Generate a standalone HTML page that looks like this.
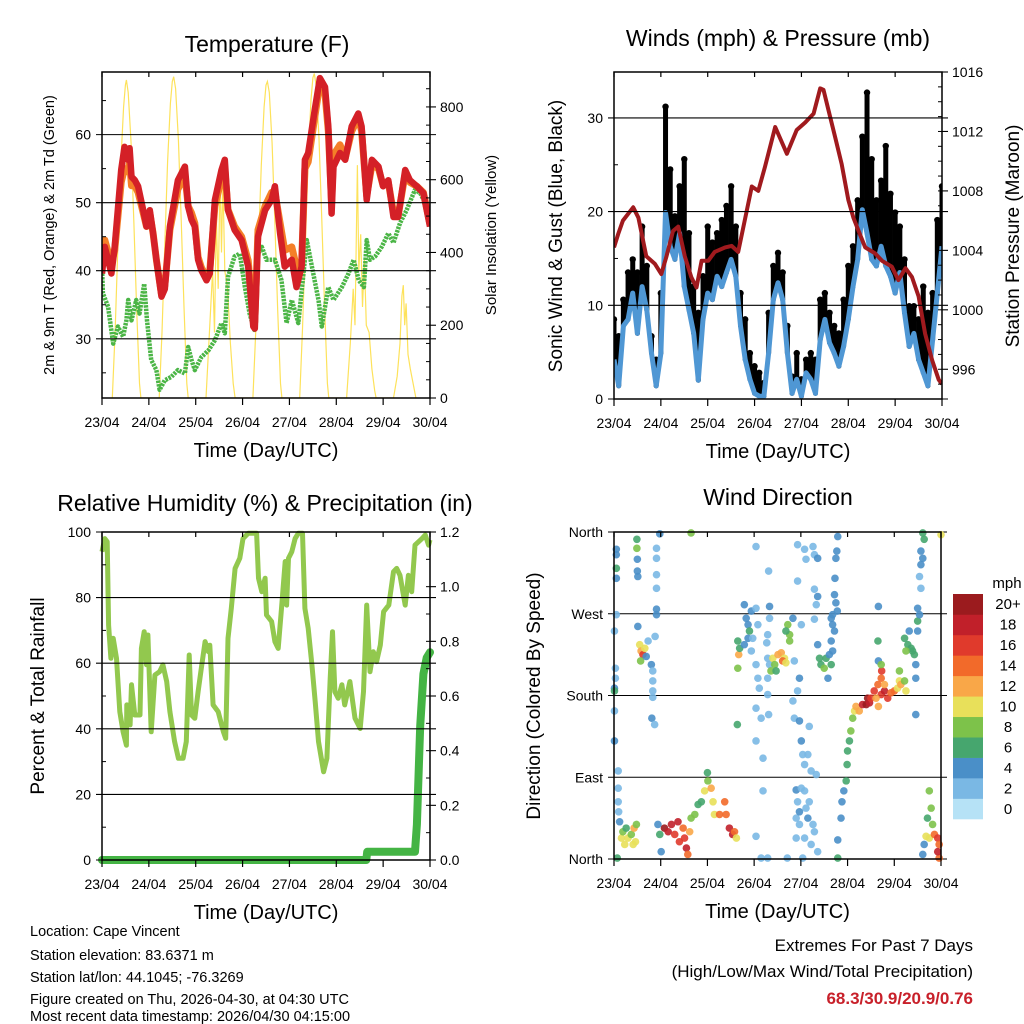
<!DOCTYPE html>
<html><head><meta charset="utf-8">
<style>
html,body{margin:0;padding:0;background:#fff;}
svg{display:block;font-family:"Liberation Sans",Arial,sans-serif;}
</style></head>
<body>
<svg id="fig" width="1024" height="1024" viewBox="0 0 1024 1024" xmlns="http://www.w3.org/2000/svg">
<rect width="1024" height="1024" fill="#fff"/>
<g font-size="14.5" fill="#000">
<text x="30" y="936">Location: Cape Vincent</text>
<text x="30" y="960">Station elevation: 83.6371 m</text>
<text x="30" y="982">Station lat/lon: 44.1045; -76.3269</text>
<text x="30" y="1004">Figure created on Thu, 2026-04-30, at 04:30 UTC</text>
<text x="30" y="1024" dy="-3">Most recent data timestamp: 2026/04/30 04:15:00</text>
</g>
<g text-anchor="end" font-size="17">
<text x="973" y="951">Extremes For Past 7 Days</text>
<text x="973" y="977">(High/Low/Max Wind/Total Precipitation)</text>
<text x="973" y="1004" fill="#c8202a" font-weight="bold">68.3/30.9/20.9/0.76</text>
</g>
</svg>
<script>
// ---------------- data ----------------
const dayLabels = ['23/04','24/04','25/04','26/04','27/04','28/04','29/04','30/04'];
const tempT = [0,0.06,0.2,0.27,0.41,0.48,0.56,0.59,0.63,0.7,0.77,0.88,0.95,1.02,1.09,1.16,1.27,1.34,1.45,1.62,1.77,1.84,1.91,1.98,2.05,2.12,2.23,2.3,2.41,2.55,2.62,2.69,2.83,2.98,3.12,3.23,3.26,3.33,3.48,3.62,3.69,3.8,3.9,4.05,4.15,4.26,4.33,4.4,4.54,4.65,4.76,4.83,4.9,4.94,5.08,5.19,5.33,5.47,5.54,5.65,5.76,5.9,6.0,6.11,6.22,6.32,6.47,6.57,6.72,6.86,7.0];
const temp2m = [39.6,43.5,39.6,43.5,54.8,58.2,56.3,58,53.8,53.3,52.4,48.9,46.5,48.9,45.5,41.6,36.2,37.3,46.5,53.3,55.3,49.4,47.5,46.5,41.6,40.1,38.6,39.6,50.4,54.8,56.3,48.9,46,44.5,40.6,31.8,31.5,45,48.9,50.4,52.4,45.5,40.6,41.6,37.6,40.6,56.3,57.3,63.6,68.3,67,61.2,48.4,55.3,57.3,56.3,61.2,63.1,61.2,50.4,56.3,55.3,52.4,53.3,47.9,47.9,54.8,53.3,52.4,51.4,46.5];
const temp9m = [41.5,44.5,41,43,53,55,54.5,56,52.5,52.5,51.5,48.5,46.5,48.5,45.5,41.6,36.5,37.8,46,52,54,49.5,48.5,47,42,40.5,39,40,49.5,53.5,55,49,46.5,45,41.5,33,32.5,46,49.5,51.5,51.5,47,43,43.5,40.5,41,55,56,62.5,67.5,66,60.5,50,57,58.5,56.5,60.5,62.5,60.5,51,55.5,55,52.5,53,48.5,48,54.3,53,52.4,51.5,46.8];
const dewT = [0,0.02,0.13,0.24,0.34,0.45,0.52,0.56,0.63,0.73,0.8,0.9,0.96,1.05,1.16,1.23,1.34,1.48,1.62,1.77,1.84,1.91,1.98,2.12,2.27,2.41,2.55,2.62,2.69,2.83,2.94,3.05,3.15,3.25,3.33,3.41,3.51,3.69,3.83,3.94,4.05,4.19,4.3,4.37,4.48,4.62,4.69,4.83,4.94,5.12,5.26,5.37,5.48,5.59,5.65,5.72,5.83,5.97,6.11,6.22,6.36,6.5,6.68,6.79,6.9,7.0];
const dewpt = [40.6,36.7,34.7,29.3,31.8,30.3,32.7,35.7,32.7,35.7,33.7,38.1,32.7,26.9,25.4,22.5,23.9,24.4,25.4,24.9,28.8,26.9,25.4,27.3,28.3,29.8,32.3,30.8,39.1,42.1,42.5,37.6,33.7,31.3,42.5,43.5,41.6,41.6,38.6,32.3,35.7,32.3,39.6,44.5,40.6,35.7,31.8,37.6,35.7,37.6,39.6,41.6,38.6,37.6,44.5,41.6,42.1,43.5,45.5,44.1,47,48.9,51.9,51.4,49.9,46.5];
const solarT = [0.22,0.28,0.34,0.40,0.46,0.50,0.52,0.56,0.62,0.68,0.74,0.80,0.83,
 1.22,1.28,1.34,1.40,1.46,1.50,1.53,1.57,1.63,1.69,1.75,1.81,1.84,
 2.22,2.30,2.36,2.40,2.44,2.48,2.52,2.55,2.58,2.62,2.68,2.74,2.80,2.84,
 3.22,3.28,3.34,3.40,3.46,3.50,3.53,3.57,3.63,3.69,3.75,3.81,3.84,
 4.22,4.28,4.34,4.40,4.46,4.50,4.53,4.57,4.63,4.69,4.75,4.81,4.84,
 5.22,5.30,5.36,5.40,5.45,5.48,5.52,5.56,5.60,5.64,5.70,5.76,5.82,5.85,
 6.22,6.30,6.36,6.40,6.43,6.46,6.49,6.53,6.58,6.64,6.70];
const solarV = [0,180,420,640,800,860,874,840,700,480,240,40,0,
 0,180,420,650,810,870,883,850,710,490,250,40,0,
 0,200,350,180,500,300,620,400,600,350,300,150,40,0,
 0,180,420,640,800,860,870,840,700,480,240,40,0,
 0,190,430,660,820,880,892,860,720,490,250,40,0,
 0,150,300,200,640,350,450,250,380,200,180,80,20,0,
 0,60,150,280,310,200,260,120,80,40,0];
const windT = [0,0.1,0.2,0.3,0.4,0.5,0.6,0.7,0.8,0.9,1.0,1.1,1.2,1.3,1.4,1.5,1.6,1.7,1.8,1.9,2.0,2.1,2.2,2.3,2.4,2.5,2.6,2.7,2.8,2.9,3.0,3.1,3.2,3.3,3.4,3.5,3.6,3.7,3.8,3.9,4.0,4.1,4.2,4.3,4.4,4.5,4.6,4.7,4.8,4.9,5.0,5.1,5.2,5.3,5.4,5.5,5.6,5.7,5.8,5.9,6.0,6.1,6.2,6.3,6.4,6.5,6.6,6.7,6.8,6.9,7.0];
const windSpeed = [4.2,1.4,7.8,8.5,11.3,7,12,9.5,4.9,1.4,4.9,19.9,16.3,14.9,17.7,12,9.5,7,2,8.5,11.3,10.6,13.1,12,13.5,14.9,13.1,7.8,4.2,2.1,0.6,0.3,0.3,4.9,10.6,12.4,10.6,4.9,0.6,2.1,0.3,2.8,2.1,0.6,6.3,8.5,6,4.9,3.5,5.6,8.5,12,14.9,20.2,17.7,14.9,14.2,16.3,14.2,13.1,11.3,13.5,9.2,5.6,7,4.2,2.8,1.4,6.3,11.3,16.3];
const windGust = [8.5,6.7,10.6,13.5,14.9,13.5,18.4,14.2,6.7,4.2,11.3,31.2,24.5,19.5,22.7,25.6,17.7,12,9.2,13.1,18.4,16.7,17.7,19.1,20.6,22.7,18.4,11.3,8.5,4.9,3.5,2.8,1.7,9.2,14.2,15.6,13.5,7.8,2.4,4.9,2.1,4.2,4.9,4.2,10.6,11.3,9.2,7.8,7,10.6,14.2,16.3,21.2,28,32.7,25.6,21.2,23.3,27,21.9,19.9,18.4,14.9,9.9,9.9,8.5,12,9.2,11.3,19.1,22.7];
const presT = [0,0.09,0.19,0.41,0.52,0.69,0.87,1.01,1.12,1.26,1.37,1.51,1.65,1.76,1.87,2.01,2.15,2.37,2.51,2.65,2.79,2.94,3.08,3.22,3.44,3.69,3.9,4.08,4.26,4.4,4.47,4.58,4.72,4.86,5.0,5.11,5.22,5.36,5.57,5.72,5.93,6.07,6.22,6.36,6.5,6.64,6.79,6.93,7.0];
const pressure = [1004.2,1005.1,1006,1006.9,1006.2,1003.6,1003.1,1002.4,1003.6,1005.3,1005.6,1003.6,1002.2,1001.5,1003.3,1003.3,1003.9,1004.2,1004.3,1003.9,1006,1008.3,1008,1009.6,1012.3,1010.5,1012.1,1012.6,1013.2,1014.9,1014.8,1013.4,1011.6,1009.8,1007.4,1006.2,1005.3,1004.2,1003.8,1003.3,1002.9,1002,1002.8,1002.2,1000.9,998.4,996.6,995.3,995.0];
const rhT = [0,0.06,0.11,0.14,0.19,0.24,0.31,0.38,0.45,0.52,0.53,0.6,0.63,0.7,0.81,0.84,0.9,0.95,0.98,1.05,1.13,1.23,1.3,1.38,1.45,1.55,1.63,1.73,1.8,1.86,1.91,1.98,2.05,2.12,2.2,2.27,2.3,2.37,2.48,2.59,2.64,2.69,2.76,2.84,2.94,3.01,3.12,3.3,3.34,3.41,3.48,3.51,3.62,3.69,3.76,3.83,3.91,3.94,3.98,4.05,4.12,4.19,4.28,4.33,4.4,4.48,4.55,4.62,4.73,4.8,4.87,4.92,4.97,5.04,5.12,5.18,5.29,5.4,5.51,5.58,5.65,5.72,5.79,5.86,5.94,6.01,6.12,6.22,6.29,6.36,6.47,6.54,6.61,6.68,6.83,6.9,6.97,7.0];
const rhVals = [94,98,97,71.6,61.5,67.6,61.5,45.2,39.1,35,47.3,41.2,53.4,44.2,44.2,64.5,69.6,59.5,68.6,39.1,56.4,57.4,59.5,54.4,45.2,36.1,31,31,36.1,62.5,44.2,43.2,51.3,58.4,66.6,63.5,65.5,47.3,45.2,39.1,37.1,67.6,76.7,88.9,92,98,99.6,99.6,85.9,81.8,85.9,74.7,72.7,66.6,64.5,76.7,91,77.7,92,94,98,99.6,99.6,76.7,70.6,59.5,48.3,36.1,26.9,31,55.4,69.6,51.3,49.3,53.4,47.3,54.4,43.2,40.1,51.3,77.7,57.4,63.5,60.5,65.5,75.7,77.7,87.9,88.9,86.8,77.7,86.8,81.8,96,98,99.1,96,97.6];
const precipT = [0,5.64,5.66,6.68,6.72,6.79,6.86,6.93,7.0];
const precip = [0,0,0.03,0.03,0.13,0.49,0.68,0.74,0.76];
const dirT = [0.05,0.05,0.05,0.05,0.05,0.01,0.03,0.03,0.01,0.01,0.01,0.01,0.09,0.09,0.09,0.10,0.12,0.07,
 0.16,0.19,0.23,0.30,0.37,0.43,0.46,0.48,0.41,0.26,
 0.49,0.49,0.50,0.50,0.51,0.51,
 0.55,0.58,0.62,0.57,0.66,0.69,0.73,
 0.98,0.91,0.91,0.91,0.91,0.91,0.91,0.88,0.80,0.83,0.83,0.83,0.83,0.81,0.87,
 0.94,0.98,1.01,1.08,1.16,1.23,1.30,1.37,1.40,1.48,1.51,1.55,1.58,1.62,1.65,1.73,1.80,1.87,1.94,2.01,2.00,2.08,2.12,2.15,2.26,2.37,2.40,2.47,2.54,2.58,2.62,1.65,
 2.65,2.67,2.65,2.69,2.79,2.83,2.87,2.90,2.94,2.87,2.79,2.94,2.97,3.04,3.08,3.04,3.08,3.11,3.04,3.15,3.04,3.19,3.19,3.04,3.15,3.29,2.64,
 3.04,3.31,3.33,3.33,3.29,3.27,3.29,3.33,3.29,3.29,3.31,
 3.40,3.44,3.51,3.58,3.65,3.61,3.68,3.36,3.47,3.72,3.76,3.68,3.76,3.83,
 3.93,4.08,4.11,4.26,4.29,4.36,3.93,4.29,4.36,4.33,4.01,4.29,3.86,3.97,3.93,3.83,3.86,3.97,4.18,4.01,4.04,4.15,4.08,4.22,4.33,3.90,3.93,4.01,4.08,4.11,4.15,4.26,3.97,3.90,4.29,4.36,4.08,4.22,3.71,4.04,3.97,4.18,3.90,
 4.36,4.40,4.43,4.50,4.54,4.58,4.61,4.68,4.65,4.65,4.68,4.65,4.72,
 4.79,4.77,4.75,4.73,4.72,4.75,4.78,4.68,
 4.79,4.79,4.86,4.88,4.92,4.97,4.99,5.00,5.04,5.07,5.11,5.15,5.18,5.25,5.32,5.40,5.43,5.47,5.50,5.57,5.65,5.72,5.72,5.79,5.86,5.93,6.00,6.07,6.11,6.14,5.73,5.79,5.61,5.66,
 5.66,5.65,5.66,5.72,
 6.22,6.29,6.36,6.39,6.43,6.25,6.32,6.46,6.46,6.11,6.22,6.25,6.46,6.50,6.50,
 6.61,6.64,6.57,6.61,6.57,6.54,6.57,6.50,6.54,
 6.75,6.79,6.82,6.71,6.75,6.86,6.93,6.96,6.96,6.93,6.64,6.61,6.68,7.0];
const dirDeg = [341,335,320,309,269,251,210,199,188,185,163,130,97,78,63,52,41,1,
 23,30,16,23,27,34,19,38,16,34,
 352,342,330,317,311,256,
 236,229,225,218,232,223,240,
 358,342,331,313,298,275,269,245,214,207,196,185,178,155,148,
 38,27,8,34,30,38,27,41,19,34,23,12,5,30,45,49,60,63,75,86,95,78,63,49,49,63,49,34,27,30,23,359,
 240,225,210,232,280,265,258,251,273,243,236,229,243,276,258,214,199,188,166,155,130,111,75,25,1,1,148,
 344,317,278,265,247,238,221,214,199,181,159,
 221,214,225,227,221,218,216,207,207,258,247,251,240,265,
 346,341,330,344,335,331,306,297,289,280,258,264,218,199,185,174,155,152,146,130,115,115,104,97,93,76,63,78,75,56,45,38,38,45,30,8,23,16,1,1,52,63,23,
 236,221,214,210,221,199,225,229,214,240,258,265,251,
 355,339,331,309,291,282,273,269,
 1,21,45,63,75,86,104,119,130,141,155,163,168,163,170,170,177,172,177,185,192,199,181,185,177,183,185,188,196,192,207,192,177,168,
 278,240,218,214,
 243,236,232,229,225,229,251,214,199,207,196,185,159,251,262,
 359,352,339,331,324,311,298,276,269,
 75,56,38,45,23,27,23,16,1,8,16,5,25,357];
const dirSpd = [4,4,6,4,2,2,2,2,4,6,2,4,2,2,2,2,4,6,
 10,8,10,10,8,12,10,8,10,6,
 6,8,4,4,4,4,
 10,12,16,8,10,4,2,
 4,2,2,2,2,4,4,2,4,2,2,2,2,4,2,
 4,6,4,20,18,18,16,18,16,14,16,18,14,12,8,8,6,6,10,8,6,12,10,10,14,14,14,18,18,14,10,8,
 6,12,8,6,4,4,4,6,4,4,4,2,2,2,2,2,2,2,2,2,2,2,2,2,2,2,6,
 2,2,4,2,2,2,2,2,2,2,2,
 10,8,12,12,10,14,10,8,6,8,8,6,8,4,
 2,2,2,2,2,4,2,2,4,2,2,2,2,4,2,2,2,4,2,4,2,2,2,2,2,4,2,2,2,2,4,2,2,2,2,2,2,2,2,2,4,2,2,
 4,6,6,8,6,4,4,4,6,4,4,4,4,
 4,4,4,4,4,4,4,4,
 6,4,4,4,4,6,6,6,6,8,8,10,12,12,18,20,20,18,16,16,14,14,16,18,16,14,14,10,10,12,16,12,12,12,
 4,6,4,8,
 6,6,6,6,6,8,4,4,4,8,8,10,4,4,6,
 6,6,4,4,4,2,2,4,4,
 8,8,8,6,10,14,16,14,14,18,4,4,10,10];
const cbLabels = ['0','2','4','6','8','10','12','14','16','18','20+'];
const cbColors = ['#b6e2f6','#7ab8e4','#4a8fc8','#46a66e','#7dc24a','#e8e05a','#f9a748','#f26a2a','#e03a2c','#c1202a','#9b1b1e'];

// ---------------- helpers ----------------
const NS = 'http://www.w3.org/2000/svg';
const svg = document.getElementById('fig');
function mk(tag, attrs, parent) {
  const e = document.createElementNS(NS, tag);
  for (const k in attrs) e.setAttribute(k, attrs[k]);
  (parent || svg).appendChild(e);
  return e;
}
function lin(d0, d1, r0, r1) { return v => r0 + (v - d0) / (d1 - d0) * (r1 - r0); }
function txt(parent, x, y, s, size, anchor, extra) {
  const t = mk('text', Object.assign({x: x, y: y, 'font-size': size, 'text-anchor': anchor || 'middle'}, extra || {}), parent);
  t.textContent = s;
  return t;
}
function pathFrom(xs, ys, fx, fy) {
  let d = '';
  for (let i = 0; i < xs.length; i++) d += (i ? 'L' : 'M') + fx(xs[i]).toFixed(1) + ',' + fy(ys[i]).toFixed(1);
  return d;
}
function frame(g, L, R, T, B) {
  const r = mk('rect', {x: L, y: T, width: R - L, height: B - T, fill: 'none', stroke: '#000', 'stroke-width': 1.5}, g);
  
  
}
function xAxis(g, L, R, T, B) {
  const fx = lin(0, 7, L, R);
  for (let i = 0; i < dayLabels.length; i++) {
    const x = fx(i);
    const tk = mk('line', {x1: x, x2: x, y1: B, y2: B + 7, stroke: '#000', 'stroke-width': 1.2}, g);
    
    
    const tt = mk('line', {x1: x, x2: x, y1: T, y2: T + 5, stroke: '#000', 'stroke-width': 1.2}, g);
    
    
    const lb = txt(g, x, B + 29, dayLabels[i], 14);
    
    
  }
  const ttl = txt(g, (L + R) / 2, B + 59, 'Time (Day/UTC)', 20);
  
  
}
function leftAxis(g, L, R, vals, labels, fy, minor) {
  for (let i = 0; i < vals.length; i++) {
    const y = fy(vals[i]);
    const gl = mk('line', {x1: L - 6, x2: R + 6, y1: y, y2: y, stroke: '#000', 'stroke-width': 1.1}, g);
    
    
    const lb = txt(g, L - 11, y + 5, labels[i], 14, 'end');
    
    
  }
  for (let i = 0; i < (minor || []).length; i++) {
    const y = fy(minor[i]);
    const mt = mk('line', {x1: L, x2: L + 4, y1: y, y2: y, stroke: '#000', 'stroke-width': 1}, g);
    
    
  }
}
function rightAxis(g, R, vals, labels, fy, minor) {
  for (let i = 0; i < vals.length; i++) {
    const y = fy(vals[i]);
    const tk = mk('line', {x1: R, x2: R + 6, y1: y, y2: y, stroke: '#000', 'stroke-width': 1.1}, g);
    
    
    const lb = txt(g, R + 10, y + 5, labels[i], 14, 'start');
    
    
  }
  for (let i = 0; i < (minor || []).length; i++) {
    const y = fy(minor[i]);
    const mt = mk('line', {x1: R - 4, x2: R, y1: y, y2: y, stroke: '#000', 'stroke-width': 1}, g);
    
    
  }
}
function vTitle(g, x, y, s, size) {
  return txt(g, 0, 0, s, size, 'middle', {transform: 'translate(' + x + ',' + y + ') rotate(-90)'});
}
function range(a, b, s) { const r = []; for (let v = a; v <= b + 1e-9; v += s) r.push(+v.toFixed(4)); return r; }

// ---------------- Temperature panel ----------------
(function () {
  const L = 102, R = 430, T = 72, B = 398;
  const g = mk('g', {});
  
  
  const fx = lin(0, 7, L, R), fy = lin(21.3, 69.2, B, T), fs = lin(0, 896, B, T);
  const ttl = txt(g, 267, 52, 'Temperature (F)', 23);
  
  
  const clip = mk('clipPath', {id: 'cT'}, g); mk('rect', {x: L, y: T, width: R - L, height: B - T}, clip);
  const sol = mk('path', {d: pathFrom(solarT, solarV, fx, fs), fill: 'none', stroke: '#fde25b', 'stroke-width': 1.2, 'clip-path': 'url(#cT)'}, g);
  
  
  const dw = mk('path', {d: pathFrom(dewT, dewpt, fx, fy), fill: 'none', stroke: '#4bb546', 'stroke-width': 4.5, 'stroke-linejoin': 'round', 'stroke-dasharray': '2.5 1', 'clip-path': 'url(#cT)'}, g);
  
  
  const o = mk('path', {d: pathFrom(tempT, temp9m, fx, fy), fill: 'none', stroke: '#f47f28', 'stroke-width': 7, 'stroke-linejoin': 'round', 'clip-path': 'url(#cT)'}, g);
  
  
  const r = mk('path', {d: pathFrom(tempT, temp2m, fx, fy), fill: 'none', stroke: '#d42027', 'stroke-width': 6.5, 'stroke-linejoin': 'round', 'clip-path': 'url(#cT)'}, g);
  
  
  leftAxis(g, L, R, [30, 40, 50, 60], ['30', '40', '50', '60'], fy, [25, 35, 45, 55, 65]);
  rightAxis(g, R, [0, 200, 400, 600, 800], ['0', '200', '400', '600', '800'], fs, range(50, 850, 50));
  frame(g, L, R, T, B);
  xAxis(g, L, R, T, B);
  const yl = vTitle(g, 54, 235, '2m & 9m T (Red, Orange) & 2m Td (Green)', 14.5);
  
  
  const yr = vTitle(g, 496, 235, 'Solar Insolation (Yellow)', 15);
  
  
})();

// ---------------- Winds panel ----------------
(function () {
  const L = 614, R = 942, T = 72, B = 399;
  const g = mk('g', {});
  
  
  const fx = lin(0, 7, L, R), fy = lin(0, 34.9, B, T), fp = lin(994, 1016, B, T);
  const ttl = txt(g, 778, 46, 'Winds (mph) & Pressure (mb)', 23);
  
  
  const clip = mk('clipPath', {id: 'cW'}, g); mk('rect', {x: L, y: T, width: R - L, height: B - T}, clip);
  const gg = mk('g', {'clip-path': 'url(#cW)'}, g);
  
  
  for (let i = 0; i < windT.length; i++) {
    const x = fx(windT[i]);
    const s = mk('line', {x1: x, x2: x, y1: fy(windSpeed[i]), y2: fy(windGust[i]), stroke: '#000', 'stroke-width': 5, 'stroke-linecap': 'round'}, gg);
    
    
    const c = mk('circle', {cx: x, cy: fy(windGust[i]), r: 3.2, fill: '#000'}, gg);
    
    
  }
  const sp = mk('path', {d: pathFrom(windT, windSpeed, fx, fy), fill: 'none', stroke: '#4f97d4', 'stroke-width': 5, 'stroke-linejoin': 'round', 'clip-path': 'url(#cW)'}, g);
  
  
  const pr = mk('path', {d: pathFrom(presT, pressure, fx, fp), fill: 'none', stroke: '#a01a1e', 'stroke-width': 4, 'stroke-linejoin': 'round', 'clip-path': 'url(#cW)'}, g);
  
  
  leftAxis(g, L, R, [0, 10, 20, 30], ['0', '10', '20', '30'], fy, [5, 15, 25]);
  rightAxis(g, R, [996, 1000, 1004, 1008, 1012, 1016], ['996', '1000', '1004', '1008', '1012', '1016'], fp, range(995, 1015, 1));
  frame(g, L, R, T, B);
  xAxis(g, L, R, T, B);
  const yl = vTitle(g, 562, 236, 'Sonic Wind & Gust (Blue, Black)', 19);
  
  
  const yr = vTitle(g, 1019, 236, 'Station Pressure (Maroon)', 19);
  
  
})();

// ---------------- RH panel ----------------
(function () {
  const L = 102, R = 430, T = 532, B = 860;
  const g = mk('g', {});
  
  
  const fx = lin(0, 7, L, R), fy = lin(0, 100, B, T), fp = lin(0, 1.2, B, T);
  const ttl = txt(g, 265, 511, 'Relative Humidity (%) & Precipitation (in)', 23);
  
  
  const rh = mk('path', {d: pathFrom(rhT, rhVals, fx, fy), fill: 'none', stroke: '#92c84e', 'stroke-width': 5, 'stroke-linejoin': 'round'}, g);
  
  
  const pc = mk('path', {d: pathFrom(precipT, precip, fx, fp), fill: 'none', stroke: '#44b444', 'stroke-width': 8, 'stroke-linejoin': 'round', 'stroke-linecap': 'round'}, g);
  
  
  leftAxis(g, L, R, [0, 20, 40, 60, 80, 100], ['0', '20', '40', '60', '80', '100'], fy, [10, 30, 50, 70, 90]);
  rightAxis(g, R, [0, 0.2, 0.4, 0.6, 0.8, 1.0, 1.2], ['0.0', '0.2', '0.4', '0.6', '0.8', '1.0', '1.2'], fp, range(0.1, 1.1, 0.1));
  frame(g, L, R, T, B);
  xAxis(g, L, R, T, B);
  const yl = vTitle(g, 44, 696, 'Percent & Total Rainfall', 19);
  
  
})();

// ---------------- Wind direction panel ----------------
(function () {
  const L = 614, R = 941, T = 532, B = 859;
  const g = mk('g', {});
  
  
  const fx = lin(0, 7, L, R), fy = lin(0, 360, B, T);
  const ttl = txt(g, 778, 505, 'Wind Direction', 23);
  
  
  leftAxis(g, L, R, [0, 90, 180, 270, 360], ['North', 'East', 'South', 'West', 'North'], fy, []);
  const clip = mk('clipPath', {id: 'cD'}, g); mk('rect', {x: L - 4, y: T - 4, width: R - L + 8, height: B - T + 8}, clip);
  const dg = mk('g', {'clip-path': 'url(#cD)'}, g);
  
  
  for (let i = 0; i < dirT.length; i++) {
    const k = Math.min(10, Math.round(dirSpd[i] / 2));
    const c = mk('circle', {cx: fx(dirT[i]), cy: fy(dirDeg[i]), r: 3.8, fill: cbColors[k], 'fill-opacity': 0.9}, dg);
    
    
  }
  frame(g, L, R, T, B);
  xAxis(g, L, R, T, B);
  const yl = vTitle(g, 540, 696, 'Direction (Colored By Speed)', 19);
  
  
  const cb = mk('g', {}, g);
  
  
  const bh = 225 / cbColors.length;
  for (let i = 0; i < cbColors.length; i++) {
    const y = 594 + (cbColors.length - 1 - i) * bh;
    const r = mk('rect', {x: 953, y: y, width: 30, height: bh + 0.3, fill: cbColors[i]}, cb);
    
    
    const t = txt(cb, 1008, y + bh / 2 + 5, cbLabels[i], 15);
    
    
  }
  const u = txt(cb, 1007, 588, 'mph', 15);
  
  
})();
</script>
</body></html>
